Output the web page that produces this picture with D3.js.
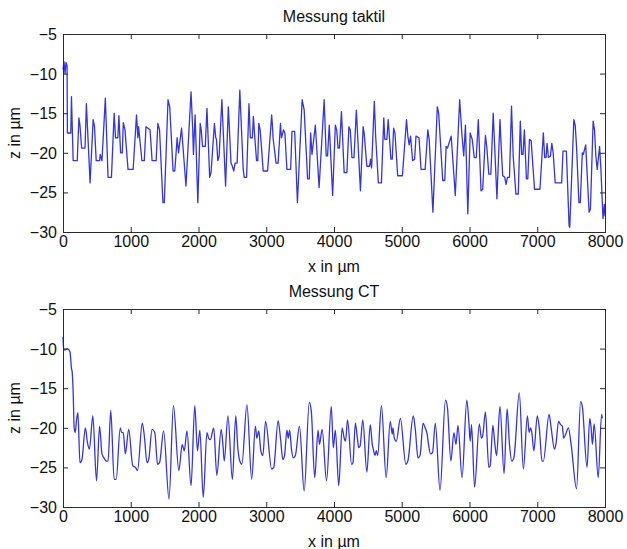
<!DOCTYPE html>
<html>
<head>
<meta charset="utf-8">
<script src="https://cdn.jsdelivr.net/npm/d3@7"></script>
<style>
  html, body { margin: 0; padding: 0; background: #fff; }
  svg { display: block; font-family: "Liberation Sans", Arial, Helvetica, sans-serif; }
</style>
</head>
<body>
<svg id="chart" width="627" height="549"></svg>
<script>
// ---------- data ----------
const titles = ["Messung taktil", "Messung CT"];
const xLabel = "x in µm";
const yLabel = "z in µm";
const xTicks = [0, 1000, 2000, 3000, 4000, 5000, 6000, 7000, 8000];
const zTicks = [-5, -10, -15, -20, -25, -30];

const taktilX = [0,15,30,45,60,65,115,125,150,210,235,250,275,325,345,400,445,465,490,540,550,575,625,665,715,755,775,810,825,850,875,890,915,960,1035,1085,1105,1115,1165,1200,1225,1285,1315,1375,1400,1425,1475,1495,1550,1575,1625,1650,1685,1705,1750,1815,1890,1915,1925,1950,1990,2025,2040,2060,2100,2125,2165,2185,2235,2255,2265,2285,2305,2345,2400,2440,2480,2500,2520,2540,2570,2610,2660,2675,2710,2745,2765,2795,2810,2833,2857,2875,2890,2910,2955,3020,3080,3095,3100,3145,3175,3210,3225,3255,3275,3305,3360,3380,3420,3460,3530,3560,3610,3635,3655,3675,3725,3780,3855,3885,3905,3930,3980,4020,4040,4060,4080,4110,4150,4190,4220,4240,4265,4295,4330,4390,4430,4445,4485,4525,4540,4555,4595,4615,4655,4700,4735,4750,4780,4800,4820,4840,4860,4880,4900,4940,5010,5070,5090,5110,5130,5160,5190,5210,5255,5285,5345,5385,5405,5460,5525,5545,5605,5635,5655,5675,5730,5790,5855,5890,5915,5940,5975,6010,6040,6070,6100,6130,6170,6195,6235,6255,6285,6315,6350,6405,6450,6470,6490,6520,6540,6560,6590,6620,6645,6685,6720,6750,6770,6790,6810,6825,6840,6860,6885,6910,6960,7040,7090,7110,7130,7145,7165,7195,7215,7235,7265,7360,7380,7430,7470,7480,7540,7560,7580,7615,7635,7665,7680,7715,7765,7785,7825,7845,7865,7885,7920,7940,7970,7990,8000];
const taktilZ = [-9.5,-8.5,-10,-8.6,-9,-17.5,-17.5,-12.9,-21,-21,-15.6,-16.5,-19.4,-19.4,-13.8,-23.8,-15.8,-16.7,-21,-21,-20.2,-21,-13.1,-23.1,-23.1,-15,-18.1,-18.1,-15.3,-20,-20,-16.2,-17.1,-22.1,-22.1,-15.2,-18.1,-16.7,-21,-21,-16.7,-17.1,-21,-21,-16.3,-17.1,-26.3,-26.3,-13.3,-14.2,-22.3,-22.3,-18.1,-20,-16.9,-24.2,-12.3,-17.1,-20.2,-15.2,-26.3,-16.3,-17.1,-19.2,-19.2,-14.4,-23.1,-22.5,-16.3,-18.1,-18.3,-21,-20.4,-13.3,-24.2,-14.2,-21.3,-21.7,-22.3,-21.3,-21.3,-12.1,-22.1,-23.1,-23.1,-13.8,-18.1,-18.1,-15.4,-18.3,-21,-21,-16.3,-17.1,-22.3,-22.3,-15.2,-17.1,-18.1,-21.3,-21.3,-16.3,-18.1,-17.1,-17.5,-22.1,-22.1,-17.3,-17.3,-26.3,-13.3,-14.6,-23.3,-23.3,-17.5,-20.2,-16.5,-24.4,-13.3,-20.4,-20.4,-16.5,-25.4,-16.5,-17.1,-19.4,-19.4,-14.8,-22.5,-22.5,-16.7,-17.1,-20.6,-20.6,-14.6,-24.8,-16.7,-17.5,-21.7,-21.7,-20.8,-21.9,-13.5,-17.9,-23.8,-23.8,-15.6,-18.3,-18.3,-15.8,-18.3,-20.8,-20.8,-16.9,-17.5,-22.9,-22.9,-15.8,-17.9,-19,-17.9,-21,-20.8,-17.9,-18.1,-22.1,-22.1,-17.1,-18.3,-27.5,-14.2,-15,-23.5,-23.5,-19.2,-19.4,-17.9,-25.4,-13.3,-17.9,-20.4,-16.5,-27.7,-17.5,-18.3,-20.6,-20.6,-15.8,-24.8,-24.6,-17.8,-19.2,-22.7,-22.7,-15,-25.8,-15.8,-19.6,-22.9,-23.1,-24,-23.1,-23.1,-14.1,-20.4,-25.2,-25.2,-16,-20.2,-20.2,-17.1,-20.2,-23.3,-23.3,-18.3,-18.5,-24.6,-24.6,-17.5,-20.6,-20.6,-18.8,-20.6,-20.4,-18.8,-20,-23.8,-23.8,-19.8,-19.8,-29.2,-29.4,-15.8,-16.5,-19.2,-26.3,-26.3,-20,-20.2,-19,-27.5,-27.1,-16,-17.1,-20.4,-22.1,-19.2,-22.1,-28.3,-26.5,-28];

const ctX = [0,10,30,60,90,105,125,135,150,165,180,200,220,250,280,330,360,390,440,495,540,575,605,640,665,705,755,785,845,865,890,920,970,1030,1070,1100,1170,1200,1240,1265,1315,1355,1395,1425,1485,1565,1630,1710,1760,1790,1830,1890,1945,1985,2020,2070,2125,2150,2175,2225,2270,2335,2360,2380,2435,2500,2550,2580,2610,2640,2715,2785,2840,2860,2890,2920,2950,2990,3080,3110,3175,3210,3245,3270,3305,3325,3345,3375,3400,3430,3490,3560,3635,3665,3715,3765,3785,3825,3890,3960,3990,4020,4070,4120,4150,4170,4200,4260,4280,4315,4345,4365,4385,4425,4485,4535,4565,4585,4605,4625,4645,4700,4770,4830,4860,4870,4890,4920,4980,5060,5090,5170,5200,5240,5270,5315,5345,5375,5395,5425,5455,5495,5565,5645,5675,5725,5770,5800,5830,5890,5960,5990,6010,6030,6075,6145,6175,6195,6235,6285,6305,6345,6375,6400,6450,6510,6555,6590,6625,6655,6735,6795,6855,6880,6900,6920,6950,7000,7030,7070,7090,7175,7205,7255,7275,7315,7345,7370,7390,7420,7460,7500,7580,7640,7665,7735,7775,7795,7815,7840,7900,7950,7960];
const ctZ = [-8.5,-10,-10.2,-10,-10.2,-10.5,-12.5,-12.9,-15.5,-20,-20.6,-19,-18.1,-24.4,-24,-20,-21.8,-22.7,-18.5,-26.7,-19.8,-23.3,-23.8,-24.2,-24.2,-17.8,-26.5,-26.5,-20,-20.6,-20.6,-23.3,-20.2,-24.8,-25,-25.4,-19.4,-21,-24.4,-24,-20.2,-20.6,-24.6,-24.4,-20.4,-29,-17.2,-25.4,-22.1,-22.9,-20.4,-27.3,-17.2,-22.9,-20.3,-28.8,-20.6,-21.3,-21.5,-20,-26,-20.2,-22.1,-24.2,-18.5,-26.5,-18.5,-22.5,-24.2,-24.6,-17.1,-26.5,-19.8,-21.3,-20.4,-22.9,-23.5,-19.2,-25.2,-25,-19.1,-21.3,-24,-23.5,-20.3,-21.3,-20.3,-22.9,-23.8,-23.5,-19.8,-28,-16.8,-17.9,-26.3,-20.3,-22.1,-20.2,-26.7,-17.3,-22.5,-20.3,-27.3,-20,-21.3,-21.7,-19,-24.6,-24.4,-19.4,-21.3,-22.5,-22.3,-19,-25.6,-19.6,-22.1,-22.9,-23.5,-22.9,-23.5,-17.2,-26.3,-19.2,-20.8,-20,-21.3,-21.7,-18.8,-24.6,-24.2,-18.5,-20.2,-23.8,-23.5,-19.4,-20,-20.8,-22.1,-23.3,-23.1,-19.4,-27.9,-16.5,-17.5,-24.2,-20.6,-22.1,-19.7,-26.3,-16.5,-19.2,-21.7,-19.6,-27.5,-19.5,-21.3,-21,-18,-25,-24.8,-19.7,-22.1,-23.5,-17.3,-25.8,-17.6,-22.1,-24.2,-23.8,-15.6,-25.2,-18.5,-20.6,-20,-20.6,-22.9,-18.5,-20,-24.2,-24.2,-18.3,-20,-22.7,-22.1,-19.2,-19.6,-19.8,-21.3,-20.8,-20,-22.1,-27.7,-16.7,-17.3,-25,-18.8,-20,-22.1,-19.5,-26.3,-18.3,-18.8];

// ---------- drawing ----------
const svg = d3.select("#chart");
const left = 63, right = 605;
const panels = [
  { top: 34, bottom: 232, xs: taktilX, zs: taktilZ, curve: d3.curveLinear, title: titles[0] },
  { top: 309, bottom: 507, xs: ctX, zs: ctZ, curve: d3.curveMonotoneX, title: titles[1] }
];
const axisColor = "#2b2b2b";
const lineColor = "#3434e0";
const fontSize = 16;

panels.forEach(p => {
  const x = d3.scaleLinear().domain([0, 8000]).range([left, right]);
  const y = d3.scaleLinear().domain([-30, -5]).range([p.bottom, p.top]);
  const g = svg.append("g");

  // data line
  const pts = p.xs.map((v, i) => [v, p.zs[i]]);
  g.append("path")
    .datum(pts)
    .attr("fill", "none")
    .attr("stroke", lineColor)
    .attr("stroke-width", 1.3)
    .attr("stroke-linejoin", "round")
    .attr("d", d3.line().x(d => x(d[0])).y(d => y(d[1])).curve(p.curve));

  // axes (inward ticks, MATLAB style)
  const fmt = d3.format("");
  const bottomAxis = g.append("g").attr("transform", `translate(0,${p.bottom})`)
    .call(d3.axisBottom(x).tickValues(xTicks).tickSize(-5).tickPadding(3).tickFormat(fmt));
  const topAxis = g.append("g").attr("transform", `translate(0,${p.top})`)
    .call(d3.axisTop(x).tickValues(xTicks).tickSize(-5).tickFormat(""));
  const leftAxis = g.append("g").attr("transform", `translate(${left},0)`)
    .call(d3.axisLeft(y).tickValues(zTicks).tickSize(-5).tickPadding(6).tickFormat(fmt));
  const rightAxis = g.append("g").attr("transform", `translate(${right},0)`)
    .call(d3.axisRight(y).tickValues(zTicks).tickSize(-5).tickFormat(""));

  [bottomAxis, topAxis, leftAxis, rightAxis].forEach(a => {
    a.select(".domain").attr("stroke", axisColor).attr("stroke-width", 1);
    a.selectAll(".tick line").attr("stroke", axisColor).attr("stroke-width", 1);
    a.selectAll(".tick text").attr("fill", "#111").style("font-size", fontSize + "px")
      .style("font-family", '"Liberation Sans", Arial, sans-serif');
  });
  bottomAxis.selectAll(".tick text").attr("dy", "0.72em");
  leftAxis.selectAll(".tick text").attr("dy", "0.34em");

  // title
  g.append("text")
    .attr("x", (left + right) / 2).attr("y", p.top - 12)
    .attr("text-anchor", "middle").attr("fill", "#111")
    .style("font-size", fontSize + "px")
    .text(p.title);

  // x label
  g.append("text")
    .attr("x", (left + right) / 2).attr("y", p.bottom + 40)
    .attr("text-anchor", "middle").attr("fill", "#111")
    .style("font-size", fontSize + "px")
    .text(xLabel);

  // y label
  g.append("text")
    .attr("transform", `translate(20,${(p.top + p.bottom) / 2}) rotate(-90)`)
    .attr("text-anchor", "middle").attr("fill", "#111")
    .style("font-size", fontSize + "px")
    .text(yLabel);
});
</script>
</body>
</html>
